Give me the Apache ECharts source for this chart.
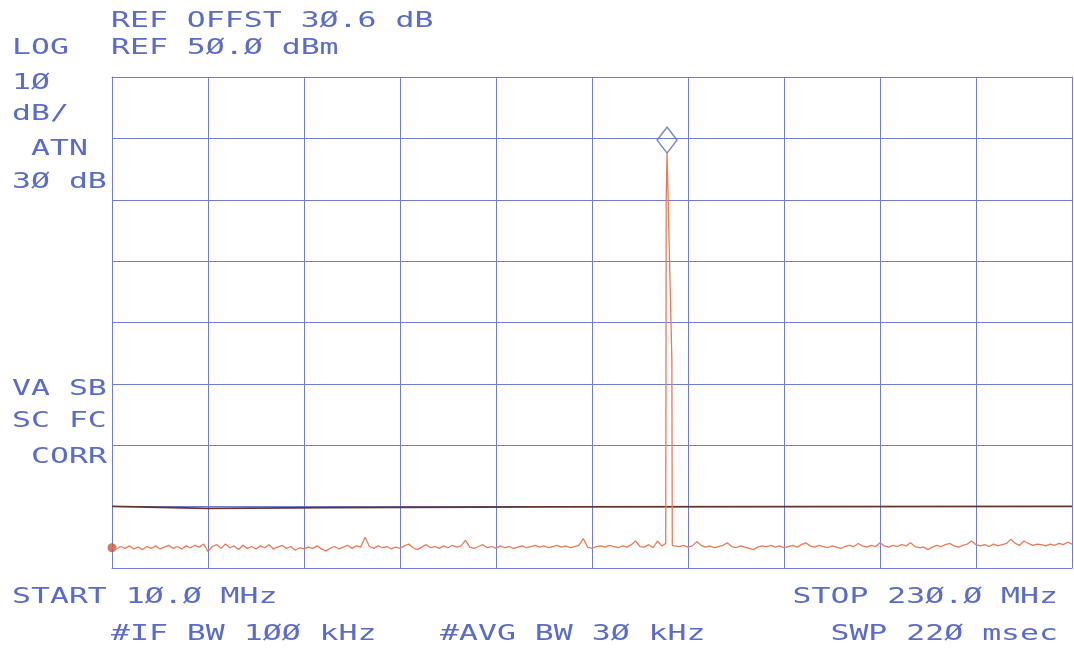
<!DOCTYPE html>
<html>
<head>
<meta charset="utf-8">
<title>Spectrum plot</title>
<script src="https://cdn.jsdelivr.net/npm/echarts@6/dist/echarts.min.js"></script>
<style>
  html, body { margin: 0; padding: 0; background: #fff; }
  #chart { width: 1074px; height: 652px; }
</style>
</head>
<body>
<div id="chart"></div>
<script>
// sweep / scale
var startMHz = 10, stopMHz = 230;
var refDbm = 50, bottomDbm = -30, dbPerDiv = 10;

// noise floor, one sample per MHz, 10..136 MHz
var noiseLow = [
  -26.7, -26.9, -26.5, -26.8, -26.4, -26.9, -26.6, -27.0, -26.5, -26.8,
  -26.4, -26.9, -26.6, -26.3, -26.8, -26.5, -26.9, -26.4, -26.7, -26.3,
  -26.6, -26.1, -27.3, -26.5, -26.2, -26.8, -26.1, -26.7, -26.4, -27.0,
  -26.3, -26.8, -26.5, -26.9, -26.4, -26.7, -26.2, -26.9, -26.6, -26.3,
  -26.8, -26.5, -27.1, -26.7, -26.9, -26.6, -26.8, -26.4, -26.9, -27.2,
  -26.8, -26.5, -26.9, -26.6, -26.3, -26.8, -26.4, -26.6, -25.0, -26.5,
  -26.8, -26.4, -26.7, -26.5, -26.9, -26.6, -26.8, -26.4, -26.1, -26.7,
  -27.0, -26.6, -26.2, -26.7, -26.5, -26.8, -26.4, -26.7, -26.3, -26.6,
  -26.4, -25.5, -26.6, -26.8, -26.5, -26.2, -26.7, -26.5, -26.8, -26.4,
  -26.7, -26.5, -26.8, -26.6, -26.4, -26.7, -26.5, -26.3, -26.6, -26.4,
  -26.7, -26.5, -26.3, -26.6, -26.4, -26.7, -26.5, -26.3, -25.2, -26.6,
  -26.8, -26.5, -26.4, -26.6, -26.3, -26.5, -26.7, -26.4, -26.6, -26.2,
  -25.6, -26.5, -26.6, -26.2, -26.7, -25.6, -26.4
];
// noise floor, 139..230 MHz
var noiseHighStart = 139;
var noiseHigh = [
  -26.4, -26.5, -26.3, -26.6, -26.4, -25.7, -26.3, -26.6, -26.4, -26.7, -26.5,
  -26.3, -25.9, -26.5, -26.7, -26.4, -26.6, -26.8, -27.0, -26.6, -26.4,
  -26.5, -26.3, -26.6, -26.4, -26.7, -26.5, -26.3, -26.6, -26.2, -25.9,
  -26.4, -26.6, -26.3, -26.5, -26.7, -26.4, -26.6, -26.8, -26.5, -26.3,
  -26.5, -26.0, -26.4, -26.6, -26.3, -26.5, -25.9, -26.4, -26.6, -26.3,
  -26.5, -26.2, -26.4, -25.9, -26.5, -26.7, -26.6, -27.0, -26.6, -26.3,
  -26.5, -26.2, -26.0, -26.4, -26.6, -26.3, -26.1, -25.6, -26.2, -26.4,
  -26.2, -26.5, -26.1, -26.4, -26.2, -26.0, -25.3, -26.0, -26.3, -25.6,
  -26.0, -26.3, -26.1, -26.2, -26.4, -26.1, -26.3, -26.0, -26.2, -25.8, -26.1
];
// carrier (rising edge, tip, falling edge)
var peakMHz = [136.9, 137.0, 137.2, 138.3, 138.4];
var peakDbm = [-26.0, 30.0, 37.6, 4.0, -26.3];
// marker on the carrier
var markerMHz = 137.2, markerDbm = 37.6;
// display line
var lineMHz = [10, 32, 60, 110, 230];
var lineDbm = [-19.95, -20.3, -20.15, -20.05, -19.97];

var trace = [];
noiseLow.forEach(function (v, i) { trace.push([startMHz + i, v]); });
peakMHz.forEach(function (f, i) { trace.push([f, peakDbm[i]]); });
noiseHigh.forEach(function (v, i) { trace.push([noiseHighStart + i, v]); });

var displayLine = lineMHz.map(function (f, i) { return [f, lineDbm[i]]; });

var blue = '#5a6bc8';
var gridBlue = '#717cd6';
var font = '21px "DejaVu Sans Mono", monospace';

function txt(s, x, y, align) {
  return {
    type: 'text', x: x, y: y, scaleX: 1.5, silent: true,
    style: { text: s, font: font, fill: blue, align: align || 'left', verticalAlign: 'middle' }
  };
}

var chart = echarts.init(document.getElementById('chart'));
var axisLine = { show: true, onZero: false, lineStyle: { color: gridBlue, width: 1 } };

chart.setOption({
  animation: false,
  backgroundColor: '#fff',
  grid: { left: 112, right: 2, top: 77, bottom: 84 },
  xAxis: [
    { type: 'value', min: startMHz, max: stopMHz, axisLine: axisLine,
      axisTick: { show: false }, axisLabel: { show: false }, splitLine: { show: false } },
    // 10 divisions for the graticule
    { type: 'value', position: 'top', min: 0, max: 10, interval: 1, axisLine: axisLine,
      axisTick: { show: false }, axisLabel: { show: false },
      splitLine: { show: true, lineStyle: { color: gridBlue, width: 1 } } }
  ],
  yAxis: [
    { type: 'value', min: bottomDbm, max: refDbm, interval: dbPerDiv, axisLine: axisLine,
      axisTick: { show: false }, axisLabel: { show: false },
      splitLine: { show: true, lineStyle: { color: gridBlue, width: 1 } } },
    { type: 'value', position: 'right', min: 0, max: 1, axisLine: axisLine,
      axisTick: { show: false }, axisLabel: { show: false }, splitLine: { show: false } }
  ],
  series: [
    { type: 'line', data: displayLine, showSymbol: false, silent: true,
      lineStyle: { color: '#65362f', width: 1.8 } },
    { type: 'line', data: trace, showSymbol: false, silent: true,
      lineStyle: { color: '#ec7a58', width: 1.3 } },
    { type: 'scatter', data: [trace[0]], symbolSize: 9, silent: true,
      itemStyle: { color: '#c25a3c' } },
    { type: 'scatter', data: [[markerMHz, markerDbm]], symbol: 'diamond',
      symbolSize: [20, 26], symbolOffset: [0, '-50%'], silent: true,
      itemStyle: { color: 'rgba(0,0,0,0)', borderColor: '#5c69b4', borderWidth: 1.5 } }
  ],
  graphic: [
    txt('REF OFFST 3Ø.6 dB', 111, 22),
    txt('LOG', 12, 49),
    txt('REF 5Ø.Ø dBm', 111, 49),
    txt('1Ø', 12, 84),
    txt('dB/', 12, 115),
    txt('ATN', 31, 150),
    txt('3Ø dB', 12, 183),
    txt('VA SB', 12, 390),
    txt('SC FC', 12, 422),
    txt('CORR', 31, 458),
    txt('START 1Ø.Ø MHz', 12, 598),
    txt('#IF BW 1ØØ kHz', 111, 635),
    txt('#AVG BW 3Ø kHz', 440, 635),
    txt('STOP 23Ø.Ø MHz', 1058, 598, 'right'),
    txt('SWP 22Ø msec', 1058, 635, 'right')
  ]
});
</script>
</body>
</html>
